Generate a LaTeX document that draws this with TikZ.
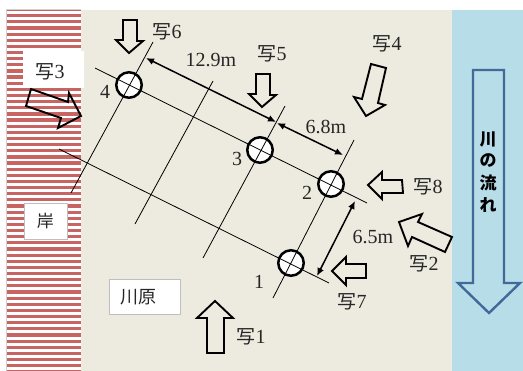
\documentclass[tikz,border=0pt]{standalone}
\usepackage{fontspec}
\setmainfont{Liberation Serif}
\newfontfamily\cjk{Noto Sans CJK JP}
\definecolor{bank}{HTML}{EDEBE0}
\definecolor{river}{HTML}{B7DDE8}
\definecolor{riveredge}{HTML}{41699A}
\definecolor{stripe}{HTML}{C0504D}
\definecolor{ink}{HTML}{262626}
\usetikzlibrary{arrows.meta}
\tikzset{
  x=1pt,y=-1pt,
  blockarrow/.style={draw=black,fill=bank,line width=1.9pt,line join=miter},
  gridline/.style={draw=black,line width=0.8pt},
  dimline/.style={draw=black,line width=1.5pt,{Latex[length=8pt,width=7pt]}-{Latex[length=8pt,width=7pt]}},
  postcircle/.style={circle,draw=black,fill=white,line width=2.5pt,minimum size=25.5pt,inner sep=0pt},
  lbl/.style={inner sep=0pt,text=ink,font=\fontsize{20}{20}\selectfont},
  whitebox/.style={draw=black!25,fill=white,line width=0.8pt},
  flowlbl/.style={inner sep=0pt,text=black,font=\cjk\bfseries\fontsize{17}{17}\selectfont},
}
\newcommand{\sha}[1]{{\cjk\fontsize{19}{19}\selectfont 写}#1}
\begin{document}
\begin{tikzpicture}
\useasboundingbox (0,0) rectangle (523,371);
\fill[white] (0,0) rectangle (523,371);
\fill[bank] (81,10) rectangle (452,371);
\fill[river] (452,10) rectangle (523,371);
\fill[white] (7,10) rectangle (81,371);
\begin{scope}
\clip (7,10) rectangle (81,371);
\foreach \k in {0,...,59}{
  \fill[stripe!88!white] (7,{7.95+6.14*\k}) rectangle (81,{7.95+6.14*\k+3.2});
}
\end{scope}
\draw[black!18,line width=0.8pt] (6.5,371) -- (6.5,9.6) -- (81,9.6);
% labels boxes
\node[whitebox,draw=none,minimum width=61pt,minimum height=37pt,inner sep=0pt] (boxsha3) at (53.5,69.5) {};
\node[whitebox,minimum width=43pt,minimum height=36pt,inner sep=0pt,text=ink] (boxgan) at (45.5,221) {\cjk\fontsize{17}{17}\selectfont 岸};
\node[whitebox,minimum width=71pt,minimum height=35pt,inner sep=0pt] (boxkawa) at (144.5,296.5) {};
\node[lbl,text=ink] (kawara) at (138,297) {\cjk\fontsize{18}{18}\selectfont 川原};
% grid ends
\coordinate (a1) at (95,68);   \coordinate (a2) at (367,203);
\coordinate (b1) at (59,149);  \coordinate (b2) at (329,283);
\coordinate (c1) at (153,42);  \coordinate (c2) at (71,193);
\coordinate (d1) at (213,81);  \coordinate (d2) at (135,224);
\coordinate (e1) at (285,106); \coordinate (e2) at (203,258);
\coordinate (f1) at (354,140); \coordinate (f2) at (273,298);
% posts
\node[postcircle] (p4) at (129,85) {};
\node[postcircle] (p3) at (260,150) {};
\node[postcircle] (p2) at (331,184) {};
\node[postcircle] (p1) at (291,263) {};
\draw[gridline] (a1) -- (a2);
\draw[gridline] (b1) -- (b2);
\draw[gridline] (c1) -- (c2);
\draw[gridline] (d1) -- (d2);
\draw[gridline] (e1) -- (e2);
\draw[gridline] (f1) -- (f2);
% dimension ends
\coordinate (m1) at (146,58);  \coordinate (m2) at (276,122);
\coordinate (n1) at (277,123); \coordinate (n2) at (343,155);
\coordinate (o1) at (355,201); \coordinate (o2) at (317,276);
\draw[dimline] (m1) -- (m2);
\draw[dimline] (n1) -- (n2);
\draw[dimline] (o1) -- (o2);
\node[lbl] (d129) at (211,60) {12.9m};
\node[lbl] (d68) at (326,127) {6.8m};
\node[lbl] (d65) at (373,237) {6.5m};
\node[lbl] (n4) at (105,92) {4};
\node[lbl] (n3) at (237,159) {3};
\node[lbl] (n2t) at (307,193) {2};
\node[lbl] (n1t) at (259,282) {1};
% photo arrows
\draw[blockarrow] (123,20) -- (137,20) -- (137,41) -- (143,41) -- (129,53) -- (116,40) -- (123,40) -- cycle;
\draw[blockarrow] (256,74) -- (270,74) -- (270,95) -- (276,95) -- (262,107) -- (249,94) -- (256,94) -- cycle;
\draw[blockarrow] (371,64) -- (386,68) -- (378,103) -- (385,105) -- (366,116) -- (354,97) -- (362,99) -- cycle;
\draw[blockarrow,fill=none] (31,89) -- (68,102) -- (69,93) -- (81,116) -- (58,128) -- (61,118) -- (26,106) -- cycle;
\draw[blockarrow] (368,185) -- (382,172) -- (382,180) -- (402,180) -- (403,193) -- (382,193) -- (382,199) -- cycle;
\draw[blockarrow] (332,271) -- (346,257) -- (346,264) -- (366,264) -- (366,278) -- (346,278) -- (346,285) -- cycle;
\draw[blockarrow] (399,222) -- (422,214) -- (418,222) -- (452,237) -- (445,252) -- (412,237) -- (408,246) -- cycle;
\draw[blockarrow] (215,301) -- (233,318) -- (224,318) -- (224,353) -- (207,353) -- (207,318) -- (197,318) -- cycle;
\node[lbl] (s6) at (167,32) {\sha{6}};
\node[lbl] (s5) at (272,54) {\sha{5}};
\node[lbl] (s4) at (387,44) {\sha{4}};
\node[lbl] (s3) at (50,72) {\sha{3}};
\node[lbl] (s8) at (428,187) {\sha{8}};
\node[lbl] (s7) at (352,302) {\sha{7}};
\node[lbl] (s2) at (424,264) {\sha{2}};
\node[lbl] (s1) at (251,337) {\sha{1}};
% river arrow
\draw[draw=riveredge,line width=2.4pt,fill=river,line join=miter] (473,70) -- (504,70) -- (504,283) -- (520,283) -- (489,313) -- (458,283) -- (473,283) -- cycle;
\node[flowlbl] (fa) at (488,140) {川};
\node[flowlbl] (fb) at (488,161) {の};
\node[flowlbl] (fc) at (488,183) {流};
\node[flowlbl] (fd) at (488,205) {れ};
\end{tikzpicture}
\end{document}
